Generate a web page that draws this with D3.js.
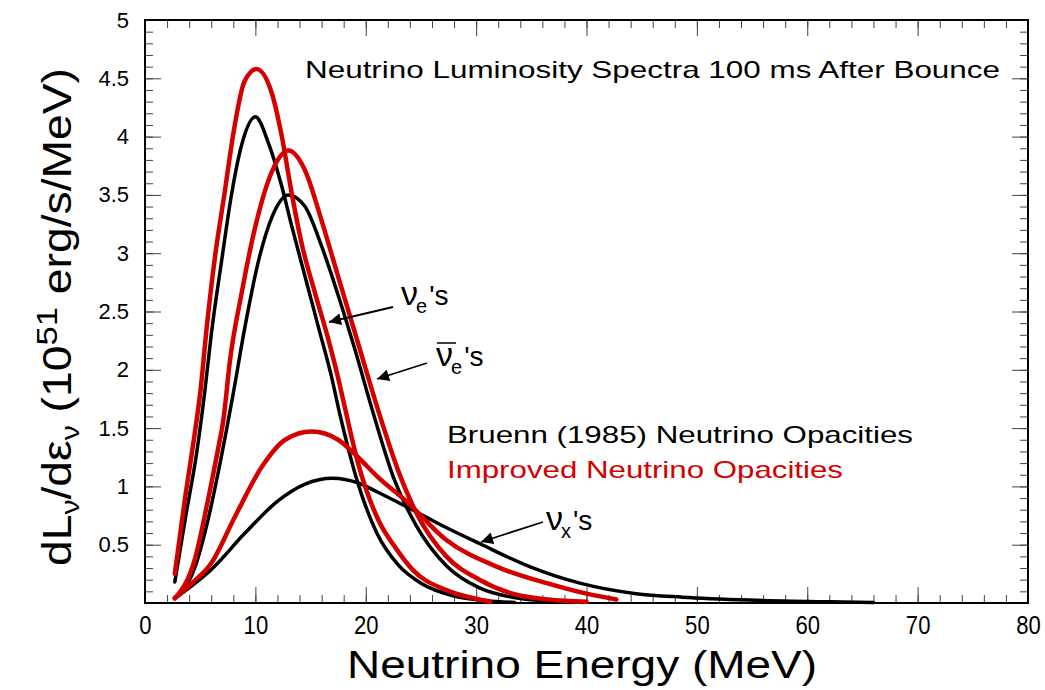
<!DOCTYPE html>
<html>
<head>
<meta charset="utf-8">
<script src="https://cdn.jsdelivr.net/npm/d3@7"></script>
<style>
  body { margin: 0; background: #fff; }
  text { font-family: "Liberation Sans", Arial, sans-serif; }
</style>
</head>
<body>
<svg id="chart"></svg>
<script>
// ---- data: [energy MeV, dL/de 1e51 erg/s/MeV] ----
var bruennNuE = [[2.7,0.18],[3.7,0.75],[4.7,1.3],[5.4,1.8],[6.0,2.3],[6.95,2.94],[7.85,3.51],[8.76,3.93],[10.0,4.17],
  [11.2,3.94],[12.4,3.57],[13.3,3.23],[14.5,2.8],[15.7,2.37],[16.9,1.94],[17.7,1.6],[19.0,1.12],[21.0,0.6],
  [23.0,0.32],[25.0,0.17],[28.0,0.06],[31.0,0.02],[33.5,0.005]];
var improvedNuE = [[2.7,0.25],[3.6,0.88],[4.5,1.45],[5.0,1.8],[5.6,2.37],[6.3,2.94],[7.2,3.51],[8.1,4.08],[9.0,4.47],
  [10.1,4.58],[11.5,4.37],[12.4,4.0],[13.3,3.51],[14.2,3.08],[15.4,2.66],[16.5,2.3],[17.5,1.93],[18.1,1.68],
  [19.3,1.2],[21.1,0.72],[22.8,0.46],[24.3,0.28],[27.3,0.11],[30.3,0.03],[31.3,0.01]];
var bruennNuEbar = [[2.7,0.04],[4.5,0.3],[5.8,0.75],[6.8,1.2],[8.0,1.8],[9.06,2.37],[10.3,2.94],[11.5,3.31],[13.0,3.5],
  [14.5,3.4],[16.0,3.06],[17.5,2.64],[19.0,2.18],[20.7,1.62],[22.5,1.08],[24.6,0.66],[27.3,0.32],[30.3,0.13],
  [33.3,0.05],[38.0,0.01]];
var improvedNuEbar = [[2.7,0.04],[4.5,0.37],[5.7,0.88],[6.6,1.31],[7.1,1.57],[7.7,2.08],[8.76,2.66],[10.0,3.23],[11.5,3.7],
  [13.0,3.88],[14.5,3.71],[16.0,3.28],[17.5,2.8],[19.3,2.23],[21.4,1.57],[23.0,1.12],[24.6,0.77],[27.3,0.4],
  [30.3,0.2],[33.3,0.08],[36.5,0.03],[40.0,0.01]];
var bruennNuX = [[2.7,0.04],[4.0,0.13],[6.04,0.29],[9.06,0.6],[12.1,0.88],[14.5,1.02],[17.0,1.07],[19.3,1.03],[21.1,0.95],
  [23.6,0.83],[27.0,0.66],[30.3,0.51],[34.9,0.31],[39.4,0.17],[44.5,0.08],[48.7,0.05],[54.8,0.025],[62,0.01],[66,0.005]];
var improvedNuX = [[2.7,0.04],[4.0,0.15],[6.0,0.34],[8.15,0.74],[10.6,1.17],[12.7,1.4],[15.1,1.47],[17.5,1.4],[19.3,1.25],
  [21.1,1.08],[23.6,0.88],[27.3,0.54],[31.9,0.31],[36.4,0.17],[40.0,0.08],[42.7,0.03]];

var xMajor = [0,10,20,30,40,50,60,70,80];
var yMajor = [0.5,1,1.5,2,2.5,3,3.5,4,4.5,5];

var black = "#000", red = "#d40000";

var margin = {top: 20, right: 17, bottom: 87, left: 145},
    width = 1045 - margin.left - margin.right,
    height = 690 - margin.top - margin.bottom;

var root = d3.select("#chart").attr("width", 1045).attr("height", 690);
var svg = root.append("g").attr("transform", "translate(" + margin.left + "," + margin.top + ")");

var x = d3.scaleLinear().domain([0, 80]).range([0, width]);
var y = d3.scaleLinear().domain([0, 5]).range([height, 0]);

var xMinor = d3.range(0, 80.01, 2), yMinor = d3.range(0, 5.001, 0.1);

function tickStyle(g) {
  g.select(".domain").remove();
  g.selectAll(".tick line").attr("stroke", "#444").attr("stroke-width", 1);
}

// minor ticks all four sides
svg.append("g").attr("transform", "translate(0," + height + ")")
  .call(d3.axisBottom(x).tickValues(xMinor).tickSize(-8).tickFormat("")).call(tickStyle);
svg.append("g")
  .call(d3.axisTop(x).tickValues(xMinor).tickSize(-8).tickFormat("")).call(tickStyle);
svg.append("g")
  .call(d3.axisLeft(y).tickValues(yMinor).tickSize(-8).tickFormat("")).call(tickStyle);
svg.append("g").attr("transform", "translate(" + width + ",0)")
  .call(d3.axisRight(y).tickValues(yMinor).tickSize(-8).tickFormat("")).call(tickStyle);

// major ticks + labels
svg.append("g").attr("transform", "translate(0," + height + ")")
  .call(d3.axisBottom(x).tickValues(xMajor).tickSize(-16).tickPadding(12).tickFormat(d3.format("d")))
  .call(tickStyle)
  .selectAll("text").attr("font-size", 26).attr("fill", "#000").attr("dy", "0.75em")
  .attr("transform", "scale(0.85,1)");
svg.append("g")
  .call(d3.axisTop(x).tickValues(xMajor).tickSize(-16).tickFormat("")).call(tickStyle);
svg.append("g")
  .call(d3.axisLeft(y).tickValues(yMajor).tickSize(-16).tickPadding(16).tickFormat(d3.format("")))
  .call(tickStyle)
  .selectAll("text").attr("font-size", 22).attr("fill", "#000");
svg.append("g").attr("transform", "translate(" + width + ",0)")
  .call(d3.axisRight(y).tickValues(yMajor).tickSize(-16).tickFormat("")).call(tickStyle);

// frame
svg.append("rect").attr("width", width).attr("height", height)
  .attr("fill", "none").attr("stroke", "#000").attr("stroke-width", 2);

// curves
var line = d3.line()
  .x(function(d) { return x(d[0]); })
  .y(function(d) { return y(d[1]); })
  .curve(d3.curveMonotoneX);

var series = [
  {data: bruennNuX, color: black, w: 3.5},
  {data: bruennNuEbar, color: black, w: 3.5},
  {data: bruennNuE, color: black, w: 3.5},
  {data: improvedNuX, color: red, w: 4.5},
  {data: improvedNuEbar, color: red, w: 4.5},
  {data: improvedNuE, color: red, w: 4.5}
];
svg.selectAll("path.curve").data(series).enter().append("path")
  .attr("class", "curve")
  .attr("d", function(d) { return line(d.data); })
  .attr("fill", "none")
  .attr("stroke", function(d) { return d.color; })
  .attr("stroke-width", function(d) { return d.w; })
  .attr("stroke-linejoin", "round").attr("stroke-linecap", "round");

// title and legend text
root.append("text").attr("x", 305).attr("y", 78).attr("font-size", 24)
  .attr("textLength", 695).attr("lengthAdjust", "spacingAndGlyphs")
  .text("Neutrino Luminosity Spectra 100 ms After Bounce");
root.append("text").attr("x", 447).attr("y", 443).attr("font-size", 24)
  .attr("textLength", 466).attr("lengthAdjust", "spacingAndGlyphs")
  .text("Bruenn (1985) Neutrino Opacities");
root.append("text").attr("x", 447).attr("y", 478).attr("font-size", 24).attr("fill", red)
  .attr("textLength", 396).attr("lengthAdjust", "spacingAndGlyphs")
  .text("Improved Neutrino Opacities");

// annotation labels with arrows
var defs = root.append("defs");
defs.append("marker").attr("id", "arr").attr("viewBox", "0 0 10 10")
  .attr("refX", 10).attr("refY", 5).attr("markerWidth", 16).attr("markerHeight", 12)
  .attr("markerUnits", "userSpaceOnUse").attr("orient", "auto")
  .append("path").attr("d", "M0,0 L10,5 L0,10 z").attr("fill", "#000");

var notes = [
  {label: "e", bar: false, tx: 401, ty: 305, x1: 393, y1: 307, x2: 329, y2: 322},
  {label: "e", bar: true, tx: 436, ty: 366, x1: 427, y1: 363, x2: 377, y2: 379},
  {label: "x", bar: false, tx: 546, ty: 530, x1: 543, y1: 522, x2: 481, y2: 542}
];
notes.forEach(function(n) {
  var t = root.append("text").attr("x", n.tx).attr("y", n.ty).attr("font-size", 28);
  t.append("tspan").attr("font-size", 34).text("ν");
  t.append("tspan").attr("font-size", 20).attr("dy", 8).attr("dx", -2).text(n.label);
  t.append("tspan").attr("dy", -8).attr("dx", 2).text("'s");
  if (n.bar) {
    root.append("line").attr("x1", n.tx + 1).attr("x2", n.tx + 20)
      .attr("y1", n.ty - 23).attr("y2", n.ty - 23).attr("stroke", "#000").attr("stroke-width", 1.5);
  }
  root.append("line").attr("x1", n.x1).attr("y1", n.y1).attr("x2", n.x2).attr("y2", n.y2)
    .attr("stroke", "#000").attr("stroke-width", 1.8).attr("marker-end", "url(#arr)");
});

// axis titles
root.append("text").attr("x", 582).attr("y", 678).attr("text-anchor", "middle")
  .attr("font-size", 38).attr("textLength", 470).attr("lengthAdjust", "spacingAndGlyphs")
  .text("Neutrino Energy  (MeV)");

var yl = root.append("text").attr("transform", "translate(71,317) rotate(-90)")
  .attr("text-anchor", "middle").attr("font-size", 40)
  .attr("textLength", 498).attr("lengthAdjust", "spacingAndGlyphs");
yl.append("tspan").text("dL");
yl.append("tspan").attr("font-size", 26).attr("dy", 8).text("ν");
yl.append("tspan").attr("dy", -8).text("/dε");
yl.append("tspan").attr("font-size", 26).attr("dy", 8).text("ν");
yl.append("tspan").attr("dy", -8).text(" (10");
yl.append("tspan").attr("font-size", 30).attr("dy", -14).text("51");
yl.append("tspan").attr("dy", 14).text(" erg/s/MeV)");
</script>
</body>
</html>
